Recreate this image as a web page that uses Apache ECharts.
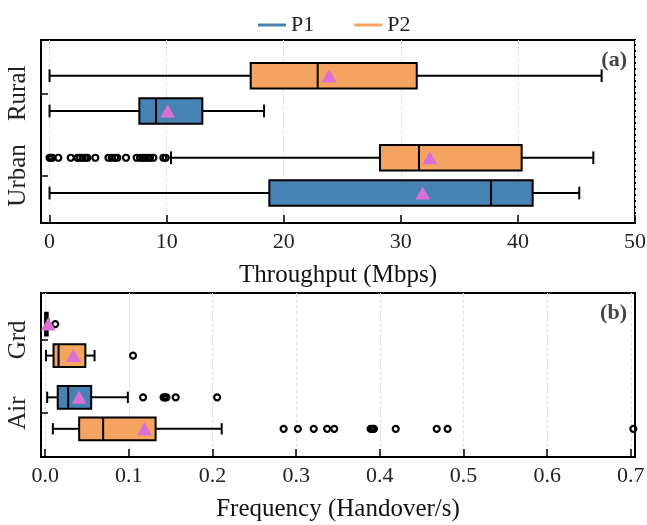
<!DOCTYPE html>
<html>
<head>
<meta charset="utf-8">
<script src="https://cdn.jsdelivr.net/npm/echarts@6/dist/echarts.min.js"></script>
<style>
  html, body { margin: 0; padding: 0; background: #fff; }
  #chart { width: 647px; height: 525px; }
</style>
</head>
<body>
<div id="chart"></div>
<script>
// 数据部分
var tpCats = ['Urban', 'Rural'];          // y 位置 0, 1
var freqCats = ['Air', 'Grd'];            // y 位置 0, 1
var tpTicks = [0, 10, 20, 30, 40, 50];
var freqTicks = [0, 0.1, 0.2, 0.3, 0.4, 0.5, 0.6, 0.7];

// 每个箱子: [最小须, Q1, 中位数, Q3, 最大须]
var tpP1Box = [[0, 18.77, 37.7, 41.26, 45.24], [0, 7.67, 9.09, 13.05, 18.32]];
var tpP2Box = [[10.37, 28.22, 31.55, 40.32, 46.44], [0, 17.18, 22.9, 31.36, 47.15]];
var tpP1Mean = [31.87, 10.09];
var tpP2Mean = [32.49, 23.87];
var tpUrbanP2Out = [0.0, 0.1, 0.24, 0.75, 1.81, 2.38, 2.6, 2.83, 3.06, 3.23, 3.91,
  5.03, 5.31, 5.59, 5.79, 6.53, 7.44, 7.73, 7.96, 8.16, 8.39, 8.58, 8.87, 9.72, 9.92];

var frP1Box = [[0.0024, 0.015, 0.0275, 0.055, 0.0988], [0, 0, 0.0005, 0.003, 0.004]];
var frP2Box = [[0.0092, 0.0406, 0.0693, 0.132, 0.211], [0.001, 0.01, 0.016, 0.048, 0.059]];
var frP1Mean = [0.0406, 0.0036];
var frP2Mean = [0.1186, 0.034];
var frAirP1Out = [0.117, 0.1415, 0.143, 0.145, 0.156, 0.2055];
var frAirP2Out = [0.285, 0.302, 0.321, 0.337, 0.3455, 0.389, 0.391, 0.393, 0.419, 0.468, 0.481, 0.703];
var frGrdP1Out = [0.012];
var frGrdP2Out = [0.105];

var BLUE = '#4682b4', ORANGE = '#f4a460', MEAN = '#da70d6';
var OFF = 0.215, BOX_H = 0.31;
var FONT = "'Liberation Serif', 'DejaVu Serif', serif";

function boxData(boxes, off) {
  return boxes.map(function (b, i) { return [i + off].concat(b); });
}
function meanData(means, off) {
  return means.map(function (m, i) { return [m, i + off]; });
}
function outData(vals, pos) {
  return vals.map(function (v) { return [v, pos]; });
}

function renderBox(params, api) {
  var y = api.value(0);
  var lo = api.coord([api.value(1), y]);
  var q1 = api.coord([api.value(2), y]);
  var md = api.coord([api.value(3), y]);
  var q3 = api.coord([api.value(4), y]);
  var hi = api.coord([api.value(5), y]);
  var h = api.size([0, BOX_H])[1];
  var cy = lo[1];
  var ls = { stroke: '#000', lineWidth: 2 };
  return {
    type: 'group',
    children: [
      { type: 'line', shape: { x1: lo[0], y1: cy, x2: q1[0], y2: cy }, style: ls },
      { type: 'line', shape: { x1: q3[0], y1: cy, x2: hi[0], y2: cy }, style: ls },
      { type: 'line', shape: { x1: lo[0], y1: cy - h / 4, x2: lo[0], y2: cy + h / 4 }, style: ls },
      { type: 'line', shape: { x1: hi[0], y1: cy - h / 4, x2: hi[0], y2: cy + h / 4 }, style: ls },
      { type: 'rect', shape: { x: q1[0], y: cy - h / 2, width: q3[0] - q1[0], height: h },
        style: { fill: api.visual('color'), stroke: '#000', lineWidth: 2 } },
      { type: 'line', shape: { x1: md[0], y1: cy - h / 2, x2: md[0], y2: cy + h / 2 }, style: ls }
    ]
  };
}

function boxSeries(name, color, data, idx) {
  return {
    name: name, type: 'custom', xAxisIndex: idx, yAxisIndex: idx,
    itemStyle: { color: color },
    renderItem: renderBox,
    encode: { x: [1, 2, 3, 4, 5], y: 0 },
    data: data, z: 2
  };
}
function meanSeries(data, idx) {
  return {
    name: 'mean', type: 'scatter', xAxisIndex: idx, yAxisIndex: idx,
    symbol: 'triangle', symbolSize: [15, 13],
    itemStyle: { color: MEAN, opacity: 1 }, data: data, z: 5
  };
}
function outSeries(data, idx) {
  return {
    name: 'outlier', type: 'scatter', xAxisIndex: idx, yAxisIndex: idx,
    symbol: 'circle', symbolSize: 6,
    itemStyle: { color: 'rgba(0,0,0,0)', borderColor: '#000', borderWidth: 2.2, opacity: 1 },
    data: data, z: 4
  };
}

function xAx(idx, min, max, split, name, ticks, fmt) {
  return {
    gridIndex: idx, type: 'value', min: min, max: max, splitNumber: split,
    name: name, nameLocation: 'middle', nameGap: 40,
    nameTextStyle: { fontFamily: FONT, fontSize: 25, color: '#111' },
    axisLine: { show: true, onZero: false, lineStyle: { color: '#000', width: 2 } },
    axisTick: { show: true, inside: true, length: 8, lineStyle: { color: '#000', width: 1.5 }, customValues: ticks },
    axisLabel: { fontFamily: FONT, fontSize: 22, color: '#222', margin: 8, customValues: ticks, formatter: fmt },
    splitLine: { show: true, lineStyle: { color: '#e2e2e2', type: 'dashed', width: 1 } }
  };
}
function yAx(idx, min, max, cats) {
  return {
    gridIndex: idx, type: 'value', min: min, max: max,
    axisLine: { show: true, onZero: false, lineStyle: { color: '#000', width: 2 } },
    axisTick: { show: true, inside: true, length: 7, lineStyle: { color: '#000', width: 1.5 }, customValues: [0, 1] },
    axisLabel: { fontFamily: FONT, fontSize: 25, color: '#222', rotate: 90, margin: 10,
      customValues: [0, 1], formatter: function (v) { return cats[Math.round(v)]; } },
    splitLine: { show: false }
  };
}

var myChart = echarts.init(document.getElementById('chart'));
var option = {
  animation: false,
  backgroundColor: '#fff',
  title: [
    { text: '(a)', right: 15, top: 44, textStyle: { fontFamily: FONT, fontWeight: 'bold', fontSize: 22, color: '#444' } },
    { text: '(b)', right: 15, top: 297, textStyle: { fontFamily: FONT, fontWeight: 'bold', fontSize: 22, color: '#444' } }
  ],
  legend: {
    data: ['P1', 'P2'], left: 253, top: 9,
    icon: 'rect', itemWidth: 28, itemHeight: 3, itemGap: 40,
    textStyle: { fontFamily: FONT, fontSize: 22, color: '#222' }
  },
  grid: [
    { left: 41, top: 40, width: 594, height: 183, show: true, borderColor: '#000', borderWidth: 2, outerBoundsMode: 'none' },
    { left: 41, top: 293, width: 594, height: 164, show: true, borderColor: '#000', borderWidth: 2, outerBoundsMode: 'none' }
  ],
  xAxis: [
    xAx(0, -0.73, 50, 5, 'Throughput (Mbps)', tpTicks, function (v) { return String(v); }),
    xAx(1, -0.005, 0.705, 7, 'Frequency (Handover/s)', freqTicks, function (v) { return v.toFixed(1); })
  ],
  yAxis: [
    yAx(0, -0.58, 1.65, tpCats),
    yAx(1, -0.6, 1.64, freqCats)
  ],
  series: [
    boxSeries('P1', BLUE, boxData(tpP1Box, -OFF), 0),
    boxSeries('P2', ORANGE, boxData(tpP2Box, OFF), 0),
    meanSeries(meanData(tpP1Mean, -OFF).concat(meanData(tpP2Mean, OFF)), 0),
    outSeries(outData(tpUrbanP2Out, OFF), 0),

    boxSeries('P1', BLUE, boxData(frP1Box, OFF), 1),
    boxSeries('P2', ORANGE, boxData(frP2Box, -OFF), 1),
    meanSeries(meanData(frP1Mean, OFF).concat(meanData(frP2Mean, -OFF)), 1),
    outSeries(outData(frAirP1Out, OFF).concat(outData(frGrdP1Out, 1 + OFF)), 1),
    outSeries(outData(frAirP2Out, -OFF).concat(outData(frGrdP2Out, 1 - OFF)), 1)
  ]
};
myChart.setOption(option);
</script>
</body>
</html>
